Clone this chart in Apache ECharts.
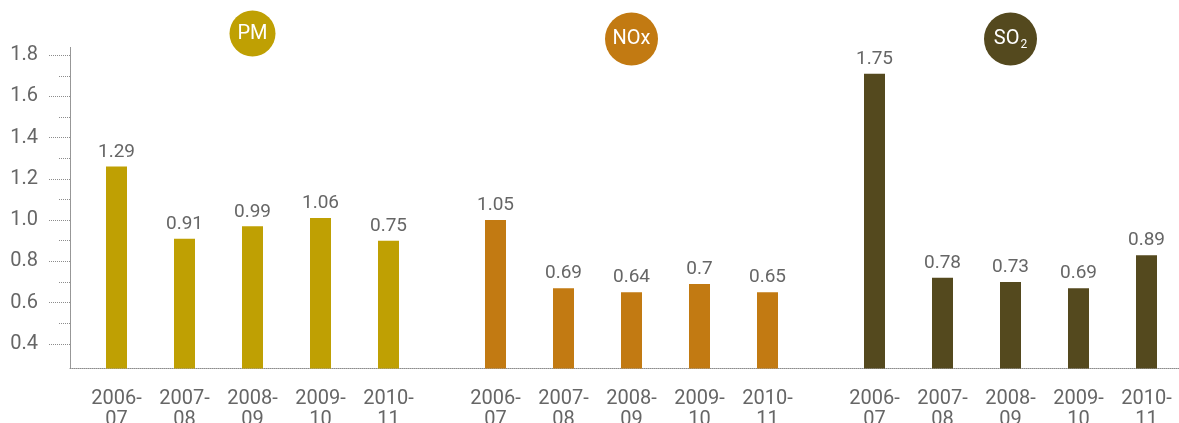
<!DOCTYPE html>
<html>
<head>
<meta charset="utf-8">
<script src="https://cdn.jsdelivr.net/npm/echarts@6/dist/echarts.min.js"></script>
<style>
  html, body { margin: 0; padding: 0; background: #fff; }
  #chart { width: 1179px; height: 423px; }
</style>
</head>
<body>
<div id="chart"></div>
<script>
// categories
const years = ['2006-07', '2007-08', '2008-09', '2009-10', '2010-11'];

// bar heights as drawn, and the numbers printed above them
const pmValues = [1.26, 0.91, 0.97, 1.01, 0.90];
const pmLabels = ['1.29', '0.91', '0.99', '1.06', '0.75'];
const noxValues = [1.00, 0.67, 0.65, 0.69, 0.65];
const noxLabels = ['1.05', '0.69', '0.64', '0.7', '0.65'];
const so2Values = [1.71, 0.72, 0.70, 0.67, 0.83];
const so2Labels = ['1.75', '0.78', '0.73', '0.69', '0.89'];

// y axis ticks
const yMajor = [0.4, 0.6, 0.8, 1.0, 1.2, 1.4, 1.6, 1.8];
const yMinor = [0.5, 0.7, 0.9, 1.1, 1.3, 1.5, 1.7];

const groups = [
  { name: 'PM', rich: 'PM', color: '#BFA003', values: pmValues, labels: pmLabels, r: 23, cy: 33.5 },
  { name: 'NOx', rich: 'NOx', color: '#C27A12', values: noxValues, labels: noxLabels, r: 26.5, cy: 39 },
  { name: 'SO2', rich: '{a|SO}{b|2}', color: '#54491E', values: so2Values, labels: so2Labels, r: 26.5, cy: 39 }
];

const yMin = 0.28, yMax = 1.84;
const gray = '#666';
const dotLine = { type: [1, 1], color: '#8c8c8c', width: 1 };

const myChart = echarts.init(document.getElementById('chart'));

const grids = [{ left: 70, right: 0, top: 47, bottom: 54.5, outerBoundsMode: 'none' }];
const xAxes = [{
  gridIndex: 0, type: 'value', min: 0, max: 1,
  axisLine: { show: true, lineStyle: dotLine },
  axisTick: { show: false }, axisLabel: { show: false }, splitLine: { show: false }
}];
const yAxes = [
  {
    gridIndex: 0, type: 'value', min: yMin, max: yMax, position: 'left',
    axisLine: { show: true, lineStyle: dotLine },
    axisTick: { show: true, customValues: yMajor, length: 22, lineStyle: dotLine },
    axisLabel: {
      customValues: yMajor, margin: 32, color: gray, fontSize: 20,
      formatter: (v) => v.toFixed(1)
    },
    splitLine: { show: false }
  },
  {
    gridIndex: 0, type: 'value', min: yMin, max: yMax, position: 'left', offset: 0,
    axisLine: { show: false },
    axisTick: { show: true, customValues: yMinor, length: 12, lineStyle: dotLine },
    axisLabel: { show: false },
    splitLine: { show: false }
  }
];
const series = [];

groups.forEach((g, i) => {
  const gi = i + 1;
  grids.push({ left: 82.5 + i * 379, width: 340, top: 47, bottom: 54.5, outerBoundsMode: 'none' });
  xAxes.push({
    gridIndex: gi, type: 'category', data: years,
    axisLine: { show: false }, axisTick: { show: false },
    axisLabel: {
      interval: 0, margin: 20, color: gray, fontSize: 20, lineHeight: 21,
      formatter: (v) => v.replace('-', '-\n')
    }
  });
  yAxes.push({ gridIndex: gi, type: 'value', min: yMin, max: yMax, show: false });
  series.push({
    name: g.name,
    type: 'bar',
    xAxisIndex: gi,
    yAxisIndex: gi + 1,
    data: g.values,
    barWidth: 21,
    itemStyle: { color: g.color },
    label: {
      show: true, position: 'top', distance: 5, color: gray, fontSize: 19,
      formatter: (p) => g.labels[p.dataIndex]
    },
    silent: true
  });
});

var option = {
  animation: false,
  textStyle: { fontFamily: 'Roboto' },
  grid: grids,
  xAxis: xAxes,
  yAxis: yAxes,
  series: series
};
myChart.setOption(option);

// round badges over the middle bar of each group
const badges = groups.map((g, i) => {
  const cx = myChart.convertToPixel({ xAxisIndex: i + 1 }, years[2]);
  return {
    type: 'group',
    children: [
      { type: 'circle', shape: { cx: cx, cy: g.cy, r: g.r }, style: { fill: g.color } },
      {
        type: 'text', x: cx, y: g.cy,
        style: {
          text: g.rich, fill: '#fff', fontSize: 20, fontFamily: 'Roboto',
          align: 'center', verticalAlign: 'middle',
          rich: {
            a: { fontSize: 20, fill: '#fff', fontFamily: 'Roboto' },
            b: { fontSize: 12, fill: '#fff', fontFamily: 'Roboto', padding: [12, 0, 0, 1] }
          }
        }
      }
    ]
  };
});
myChart.setOption({ graphic: badges });
</script>
</body>
</html>
